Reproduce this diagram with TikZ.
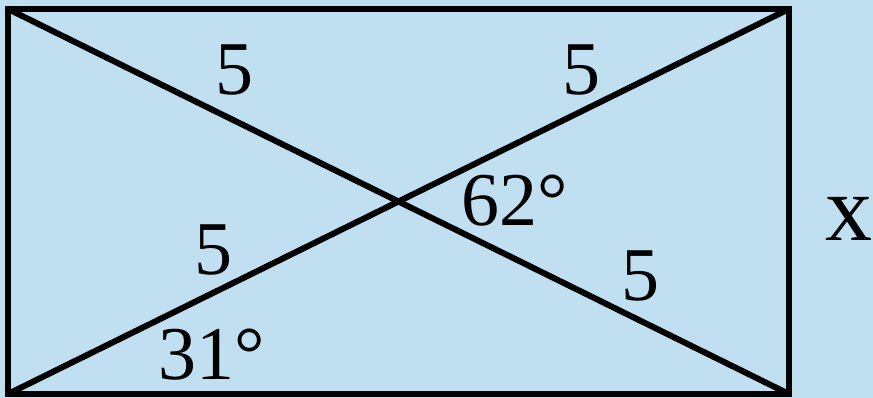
\documentclass[tikz,border=0pt]{standalone}
\usepackage{fontspec}
\setmainfont{Liberation Serif}
\definecolor{bgblue}{HTML}{C0DFF1}
\tikzset{
  lbl/.style={inner sep=0pt, anchor=center, font=\fontsize{76}{80}\selectfont},
  xlbl/.style={inner sep=0pt, anchor=center, font=\fontsize{94}{100}\selectfont},
  edge/.style={line width=6pt, black}
}
\begin{document}
\begin{tikzpicture}[x=1pt,y=-1pt]
  \fill[bgblue] (0,0) rectangle (873,398);
  \useasboundingbox (0,0) rectangle (873,398);
  \coordinate (tl) at (8,9);
  \coordinate (tr) at (789,9);
  \coordinate (br) at (789,394);
  \coordinate (bl) at (8,394);
  \draw[edge, line join=miter] (tl) -- (tr) -- (br) -- (bl) -- cycle;
  \draw[edge] (tl) -- (br);
  \draw[edge] (bl) -- (tr);
  \node[lbl] (a) at (234,70) {5};
  \node[lbl] (b) at (581,70) {5};
  \node[lbl] (c) at (213,250) {5};
  \node[lbl] (d) at (640,276) {5};
  \node[lbl] (e) at (515,201) {62°};
  \node[lbl] (f) at (212,355) {31°};
  \node[xlbl] (g) at (849,219) {x};
\end{tikzpicture}
\end{document}
